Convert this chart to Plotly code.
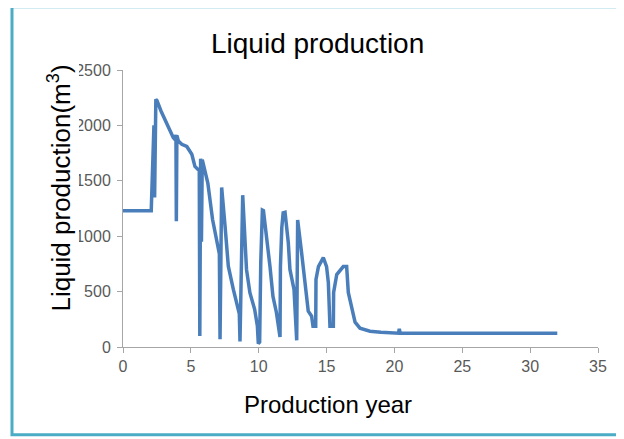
import plotly.graph_objects as go

# Production year (x) and liquid production (y)
years = [0.0, 2.08, 2.28, 2.33, 2.42, 2.5, 2.8, 3.1, 3.47, 3.7, 3.85, 3.9, 3.93, 3.97, 4.08,
         4.33, 4.7, 5.07, 5.3, 5.57, 5.62, 5.66, 5.72, 5.78, 5.84, 5.92, 6.25, 6.6, 7.0, 7.1,
         7.15, 7.27, 7.52, 7.76, 8.13, 8.5, 8.57, 8.62, 8.72, 8.76, 8.82, 9.1, 9.35, 9.7, 9.9,
         9.97, 10.07, 10.15, 10.27, 10.35, 10.6, 10.83, 11.05, 11.3, 11.57, 11.6, 11.7, 11.8,
         11.94, 12.18, 12.3, 12.6, 12.8, 12.87, 13.16, 13.4, 13.65, 13.9, 14.0, 14.2, 14.22,
         14.4, 14.76, 15.0, 15.13, 15.25, 15.5, 15.52, 15.75, 16.23, 16.48, 16.6, 16.85, 17.1,
         17.46, 18.2, 19.0, 19.7, 20.3, 20.36, 20.42, 32.0]
liquid = [1230, 1230, 2000, 1350, 2235, 2225, 2130, 2050, 1935, 1890, 1870, 1915, 1135, 1910, 1860,
          1830, 1810, 1740, 1630, 1600, 1590, 100, 1700, 950, 1690, 1650, 1480, 1150, 900, 840,
          70, 1440, 1090, 730, 520, 320, 300, 50, 890, 900, 1370, 700, 490, 340, 190,
          30, 45, 760, 1235, 1230, 995, 726, 457, 314, 90, 726, 1075, 1210,
          1215, 941, 700, 520, 60, 1147, 851, 582, 323, 278, 188, 188, 609,
          726, 806, 726, 582, 188, 188, 493, 654, 726, 726, 493, 340, 224,
          170, 143, 134, 130, 125, 165, 125, 125]

x_ticks = [0, 5, 10, 15, 20, 25, 30, 35]
y_ticks = [0, 500, 1000, 1500, 2000, 2500]

fig = go.Figure()
fig.add_trace(go.Scatter(x=years, y=liquid, mode="lines",
                         line=dict(color="#4a7ebb", width=3.5),
                         showlegend=False, hoverinfo="skip"))

axis_common = dict(showgrid=False, zeroline=False, showline=True, linecolor="#a6a6a6",
                   linewidth=1, ticks="outside", ticklen=5, tickcolor="#a6a6a6",
                   tickfont=dict(family="Liberation Sans", size=16, color="#595959"))

fig.update_xaxes(range=[0, 35], tickvals=x_ticks, **axis_common)
fig.update_yaxes(range=[0, 2500], tickvals=y_ticks, ticklabelstandoff=3, **axis_common)

fig.update_layout(
    width=616, height=431,
    margin=dict(l=115, r=26, t=62, b=92),
    paper_bgcolor="white", plot_bgcolor="white",
    shapes=[dict(type="rect", xref="paper", yref="paper",
                 x0=-0.2337, x1=1.12, y0=-0.3165, y1=1.228,
                 line=dict(color="#4bacc6", width=3), layer="below")],
    annotations=[
        dict(text="Liquid production", xref="paper", yref="paper", x=0.41, y=1.0957,
             showarrow=False, xanchor="center", yanchor="middle",
             font=dict(family="Liberation Sans", size=28, color="#000000")),
        dict(text="Production year", xref="paper", yref="paper", x=0.431, y=-0.206,
             showarrow=False, xanchor="center", yanchor="middle",
             font=dict(family="Liberation Sans", size=24, color="#000000")),
        dict(text="Liquid production(m<sup>3</sup>)", xref="paper", yref="paper",
             x=-0.1326, y=0.572, textangle=-90, showarrow=False,
             xanchor="center", yanchor="middle", bgcolor="white", borderpad=2,
             font=dict(family="Liberation Sans", size=26, color="#000000")),
    ],
)

fig.write_html("out.html")
